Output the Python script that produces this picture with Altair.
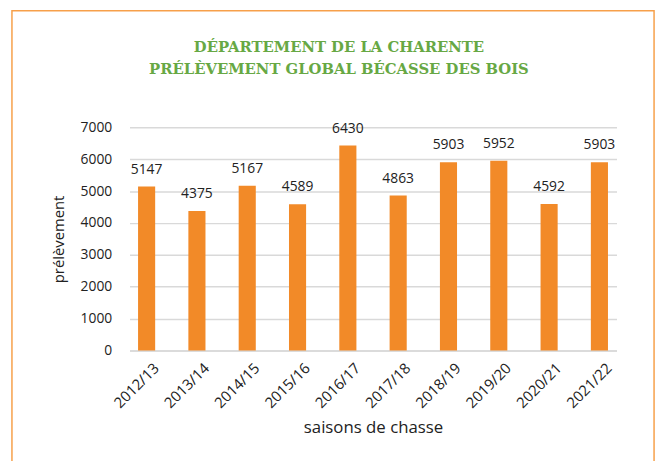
import altair as alt
import pandas as pd

saisons = ["2012/13", "2013/14", "2014/15", "2015/16", "2016/17",
           "2017/18", "2018/19", "2019/20", "2020/21", "2021/22"]
prelevement = [5147, 4375, 5167, 4589, 6430, 4863, 5903, 5952, 4592, 5903]
titre = ["DÉPARTEMENT DE LA CHARENTE", "PRÉLÈVEMENT GLOBAL BÉCASSE DES BOIS"]

df = pd.DataFrame({"saison": saisons, "prelevement": prelevement})
df_t1 = pd.DataFrame({"t": [titre[0]]})
df_t2 = pd.DataFrame({"t": [titre[1]]})

ORANGE = "#f28a28"
GREEN = "#67a844"
FONT = "Open Sans"
TXT = "#222222"

y_enc = alt.Y("prelevement:Q", title="prélèvement",
              scale=alt.Scale(domain=[0, 7000], nice=False),
              axis=alt.Axis(values=[0, 1000, 2000, 3000, 4000, 5000, 6000, 7000],
                            format="d", labelOverlap=False,
                            labelFontSize=14, labelColor=TXT, labelFont=FONT,
                            titleFont=FONT, titleFontSize=15, titleFontWeight="normal",
                            titleColor=TXT, titlePadding=14, domain=False,
                            ticks=False, labelPadding=18, gridColor="#d9d9d9",
                            gridWidth=1.5))

base = alt.Chart(df).encode(
    x=alt.X("saison:N", sort=saisons, title="saisons de chasse",
            scale=alt.Scale(paddingInner=0.66, paddingOuter=0.17),
            axis=alt.Axis(labelAngle=-45, labelFontSize=15, labelColor=TXT,
                          labelFont=FONT, titleFont=FONT, titleFontSize=17,
                          titleFontWeight="normal", titleColor=TXT,
                          titlePadding=9, domain=True, domainColor="#d9d9d9",
                          domainWidth=1.5, ticks=False, labelPadding=10,
                          labelOffset=5)),
    y=y_enc,
)

bars = base.mark_bar(color=ORANGE)

labels = base.mark_text(dy=-17, fontSize=14, font=FONT, color=TXT,
                        baseline="middle").encode(text="prelevement:Q")

frame = alt.Chart(df_t1).mark_rect(filled=False, stroke="#f7a04a", strokeWidth=1.5).encode(
    x=alt.value(-119), x2=alt.value(531), y=alt.value(-118), y2=alt.value(400)
)

t1 = alt.Chart(df_t1).mark_text(font="DejaVu Serif", fontSize=15,
                                fontWeight="bold", color=GREEN, align="center",
                                baseline="middle").encode(
    text="t:N", x=alt.value(212), y=alt.value(-81))
t2 = alt.Chart(df_t2).mark_text(font="DejaVu Serif", fontSize=15,
                                fontWeight="bold", color=GREEN, align="center",
                                baseline="middle").encode(
    text="t:N", x=alt.value(212), y=alt.value(-59))

chart = alt.layer(frame, t1, t2, bars, labels).properties(
    width=493,
    height=226,
    padding={"left": 123, "top": 118, "right": 43, "bottom": 109},
    autosize=alt.AutoSizeParams(type="none"),
).configure_view(stroke=None)

chart.save("out.html", embed_options={"renderer": "svg", "actions": False})
